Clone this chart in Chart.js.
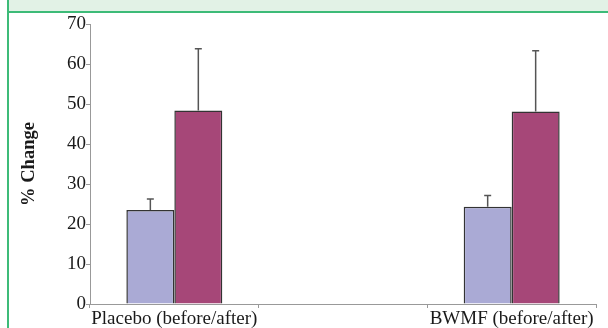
<!DOCTYPE html>
<html>
<head>
<meta charset="utf-8">
<script src="https://cdn.jsdelivr.net/npm/chart.js@4.4.0/dist/chart.umd.min.js"></script>
<style>
  html, body { margin: 0; padding: 0; background: #ffffff; }
  #wrap { position: relative; width: 608px; height: 328px; }
  canvas { display: block; }
</style>
</head>
<body>
<div id="wrap"><canvas id="c" width="608" height="328"></canvas></div>
<script>
// ---- data ----
const categories = ['Placebo (before/after)', '', 'BWMF (before/after)'];
const beforeValues = [23.5, null, 24.3];
const afterValues  = [48.4, null, 48.1];
const beforeErrors = [2.75, null, 2.8];
const afterErrors  = [15.4, null, 15.2];
const yTicks = [0, 10, 20, 30, 40, 50, 60, 70];

const framePlugin = {
  id: 'frame',
  beforeDraw(chart) {
    const ctx = chart.ctx;
    ctx.save();
    ctx.fillStyle = '#ffffff';
    ctx.fillRect(0, 0, chart.width, chart.height);
    ctx.fillStyle = '#e2f2e6';
    ctx.fillRect(9, 0, chart.width - 9, 11);
    ctx.fillStyle = '#3dbb78';
    ctx.fillRect(7, 0, 2, chart.height);
    ctx.fillRect(7, 11, chart.width - 7, 2);
    ctx.restore();
  }
};

const errorBarPlugin = {
  id: 'errorBars',
  afterDatasetsDraw(chart) {
    const ctx = chart.ctx;
    const yScale = chart.scales.y;
    const errs = [beforeErrors, afterErrors];
    const vals = [beforeValues, afterValues];
    ctx.save();
    ctx.strokeStyle = '#555555';
    ctx.lineWidth = 1.5;
    chart.data.datasets.forEach((ds, di) => {
      const meta = chart.getDatasetMeta(di);
      meta.data.forEach((bar, i) => {
        const v = vals[di][i], e = errs[di][i];
        if (v == null || e == null) return;
        const x = bar.x;
        const yTop = yScale.getPixelForValue(v + e);
        const yBase = yScale.getPixelForValue(v);
        ctx.beginPath();
        ctx.moveTo(x, yBase);
        ctx.lineTo(x, yTop);
        ctx.moveTo(x - 3.5, yTop);
        ctx.lineTo(x + 3.5, yTop);
        ctx.stroke();
      });
    });
    ctx.restore();
  }
};

new Chart(document.getElementById('c'), {
  type: 'bar',
  data: {
    labels: categories,
    datasets: [
      { label: 'Before', data: beforeValues, backgroundColor: '#aaaad5', borderColor: '#333333', borderWidth: 1.5 },
      { label: 'After',  data: afterValues,  backgroundColor: '#a64778', borderColor: '#333333', borderWidth: 1.5 }
    ]
  },
  options: {
    responsive: false,
    animation: false,
    events: [],
    devicePixelRatio: 1,
    categoryPercentage: 0.569,
    barPercentage: 1.0,
    layout: { padding: { left: 10, right: 12, top: 24, bottom: 0 } },
    plugins: { legend: { display: false }, tooltip: { enabled: false }, title: { display: false } },
    scales: {
      x: {
        offset: true,
        grid: { offset: true, drawOnChartArea: false, drawTicks: true, tickLength: 4, color: '#999999' },
        border: { color: '#999999', width: 1 },
        ticks: { color: '#1a1a1a', font: { family: 'Liberation Serif', size: 19 }, padding: 0, maxRotation: 0, autoSkip: false },
        afterFit(scale) { scale.height = 24; }
      },
      y: {
        min: 0, max: 70,
        afterBuildTicks(scale) { scale.ticks = yTicks.map(v => ({ value: v })); },
        grid: { drawOnChartArea: false, drawTicks: true, tickLength: 4, color: '#999999' },
        border: { color: '#999999', width: 1 },
        ticks: { color: '#1a1a1a', font: { family: 'Liberation Serif', size: 19 }, padding: 0 },
        title: { display: true, text: '% Change', color: '#1a1a1a', font: { family: 'Liberation Serif', size: 18.5, weight: 'bold' }, padding: { top: 8, bottom: 0 } },
        afterFit(scale) { scale.width = 80; }
      }
    }
  },
  plugins: [framePlugin, errorBarPlugin]
});
</script>
</body>
</html>
